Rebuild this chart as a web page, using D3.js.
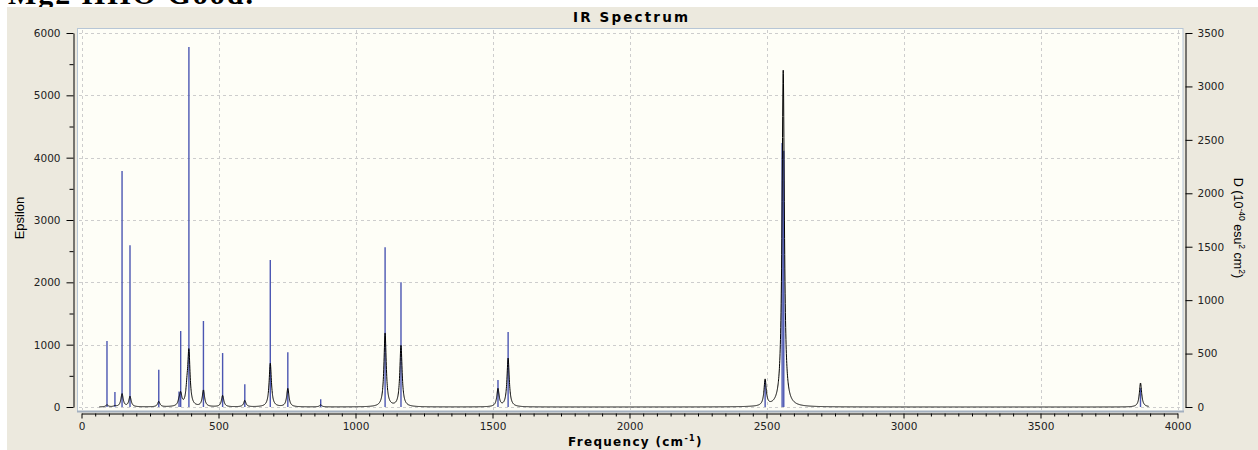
<!DOCTYPE html>
<html><head><meta charset="utf-8">
<script src="https://cdn.jsdelivr.net/npm/d3@7/dist/d3.min.js"></script>
<style>body{margin:0;background:#fff}svg{display:block}</style>
</head><body>
<svg id="c" width="1258" height="450"></svg>
<script>
// ---- data ----
// blue sticks: frequency (cm-1) and dipole strength D (right axis)
const stickFreq = [93, 122, 148, 177, 282, 356, 362, 392, 445, 515, 596, 689, 753, 873, 1108, 1166, 1520, 1557, 2495, 2557, 2563, 3865];
const stickD    = [618, 141, 2209, 1513, 349, 146, 711, 3369, 805, 505, 212, 1376, 512, 72, 1495, 1167, 253, 702, 243, 2470, 2398, 175];
// black spectrum: band centres (cm-1) and band heights in Epsilon (left axis)
const bandFreq = [93, 122, 148, 177, 282, 356, 362, 385, 392, 445, 515, 596, 689, 753, 873, 1108, 1166, 1520, 1557, 2495, 2561, 3865];
const bandEps  = [32, 15, 209, 166, 86, 60, 190, 200, 860, 262, 182, 101, 700, 294, 32, 1180, 980, 285, 780, 420, 5400, 385];
const bandHalfWidth = 5;          // Lorentzian half width (cm-1)
const curveRange = [65, 3895];    // span of the drawn spectrum
const xTicks = d3.range(0, 4001, 500);
const xMinorTicks = d3.range(0, 4001, 50);
const yLeftTicks = d3.range(0, 6001, 1000);
const yLeftMinor = d3.range(500, 6000, 1000);
const yRightTicks = d3.range(0, 3501, 500);
const titleText = "IR Spectrum";
const headText = "Mg2 HHO Good.";

// ---- drawing ----
const svg = d3.select("#c");
svg.append("text").attr("x", 8).attr("y", 4).attr("textLength", 245).attr("lengthAdjust", "spacing")
  .style("font", "bold 30px 'Liberation Serif', serif").attr("fill", "#000").text(headText);
svg.append("rect").attr("x", 7).attr("y", 7).attr("width", 1251).attr("height", 443).attr("fill", "#ECE9DE");

const x = d3.scaleLinear().domain([0, 4000]).range([81.5, 1177.5]);
const yL = d3.scaleLinear().domain([0, 6000]).range([407, 33]);
const yR = d3.scaleLinear().domain([0, 3500]).range([407, 33]);

// plot panel
svg.append("rect").attr("x", 77.5).attr("y", 28.5).attr("width", 1105.5).attr("height", 383)
  .attr("fill", "#FEFEF7").attr("stroke", "#B7C6D6").attr("stroke-width", 1);
svg.append("line").attr("x1", 77).attr("x2", 1184).attr("y1", 411.5).attr("y2", 411.5)
  .attr("stroke", "#A3B0BF").attr("stroke-width", 2);

const grid = svg.append("g").attr("stroke", "#CDCDCD").attr("stroke-dasharray", "3,3").attr("stroke-width", 1);
grid.selectAll(".v").data(xTicks).join("line")
  .attr("x1", d => Math.round(x(d)) + 0.5).attr("x2", d => Math.round(x(d)) + 0.5)
  .attr("y1", 30).attr("y2", 410);
grid.selectAll(".h").data(yLeftTicks).join("line")
  .attr("y1", d => Math.round(yL(d)) + 0.5).attr("y2", d => Math.round(yL(d)) + 0.5)
  .attr("x1", 79).attr("x2", 1182);

const clip = svg.append("defs").append("clipPath").attr("id", "pc");
clip.append("rect").attr("x", 78).attr("y", 29).attr("width", 1104).attr("height", 381);
const plot = svg.append("g").attr("clip-path", "url(#pc)");

// sticks
plot.selectAll(".stick").data(stickFreq.map((f, i) => ({f, d: stickD[i]}))).join("line")
  .attr("x1", d => x(d.f)).attr("x2", d => x(d.f))
  .attr("y1", yR(0)).attr("y2", d => yR(d.d))
  .attr("stroke", "#4B56B2").attr("stroke-width", 1.4);

// spectrum
const freqs = d3.range(curveRange[0], curveRange[1] + 0.01, 0.5);
const spec = freqs.map(f => {
  let s = 0;
  for (let i = 0; i < bandFreq.length; i++) {
    const t = (f - bandFreq[i]) / bandHalfWidth;
    s += bandEps[i] / (1 + t * t);
  }
  return [f, s];
});
plot.append("path").datum(spec)
  .attr("d", d3.line().x(d => x(d[0])).y(d => yL(d[1])))
  .attr("fill", "none").attr("stroke", "#000").attr("stroke-width", 1);

const tickFont = "10.5px 'DejaVu Sans', sans-serif";
function styleAxis(g) {
  g.selectAll("path,line").attr("stroke", "#000");
  g.selectAll("text").style("font", tickFont).attr("fill", "#222");
}
// left axis
svg.append("g").attr("transform", "translate(73.5,0)")
  .call(d3.axisLeft(yL).tickValues(yLeftTicks).tickSize(7).tickSizeOuter(0).tickPadding(6).tickFormat(d3.format("d")))
  .call(styleAxis);
svg.append("g").attr("transform", "translate(73.5,0)")
  .call(d3.axisLeft(yL).tickValues(yLeftMinor).tickSize(4).tickFormat(""))
  .call(g => g.select(".domain").remove()).call(styleAxis);
// right axis
svg.append("g").attr("transform", "translate(1185.5,0)")
  .call(d3.axisRight(yR).tickValues(yRightTicks).tickSize(7).tickSizeOuter(0).tickPadding(5).tickFormat(d3.format("d")))
  .call(styleAxis);
// bottom axis
svg.append("g").attr("transform", "translate(0,413.5)")
  .call(d3.axisBottom(x).tickValues(xTicks).tickSize(5).tickSizeOuter(0).tickPadding(4).tickFormat(d3.format("d")))
  .call(styleAxis);
svg.append("g").attr("transform", "translate(0,413.5)")
  .call(d3.axisBottom(x).tickValues(xMinorTicks.filter(v => v % 500 !== 0)).tickSize(3).tickFormat(""))
  .call(g => g.select(".domain").remove()).call(styleAxis);

// titles
svg.append("text").attr("x", 573).attr("y", 22).attr("textLength", 115).attr("lengthAdjust", "spacing")
  .style("font", "bold 13.5px 'DejaVu Sans', sans-serif").attr("fill", "#000").text(titleText);

const xl = svg.append("text").attr("x", 568).attr("y", 446)
  .style("font", "bold 12px 'DejaVu Sans', sans-serif").style("letter-spacing", "1.3px").attr("fill", "#000");
xl.append("tspan").text("Frequency (cm");
xl.append("tspan").attr("dy", -5).style("font-size", "8px").text("-1");
xl.append("tspan").attr("dy", 5).text(")");

svg.append("text").attr("transform", "translate(24,218) rotate(-90)").attr("text-anchor", "middle")
  .style("font", "13px 'Liberation Sans', Arial, sans-serif").attr("fill", "#000").text("Epsilon");

const rl = svg.append("text").attr("transform", "translate(1234,228) rotate(90)").attr("text-anchor", "middle")
  .style("font", "12.5px 'Liberation Sans', Arial, sans-serif").attr("fill", "#000");
rl.append("tspan").text("D (10");
rl.append("tspan").attr("dy", -5).style("font-size", "8.5px").text("-40");
rl.append("tspan").attr("dy", 5).text(" esu");
rl.append("tspan").attr("dy", -5).style("font-size", "8.5px").text("2");
rl.append("tspan").attr("dy", 5).text(" cm");
rl.append("tspan").attr("dy", -5).style("font-size", "8.5px").text("2");
rl.append("tspan").attr("dy", 5).text(")");
</script>
</body></html>
